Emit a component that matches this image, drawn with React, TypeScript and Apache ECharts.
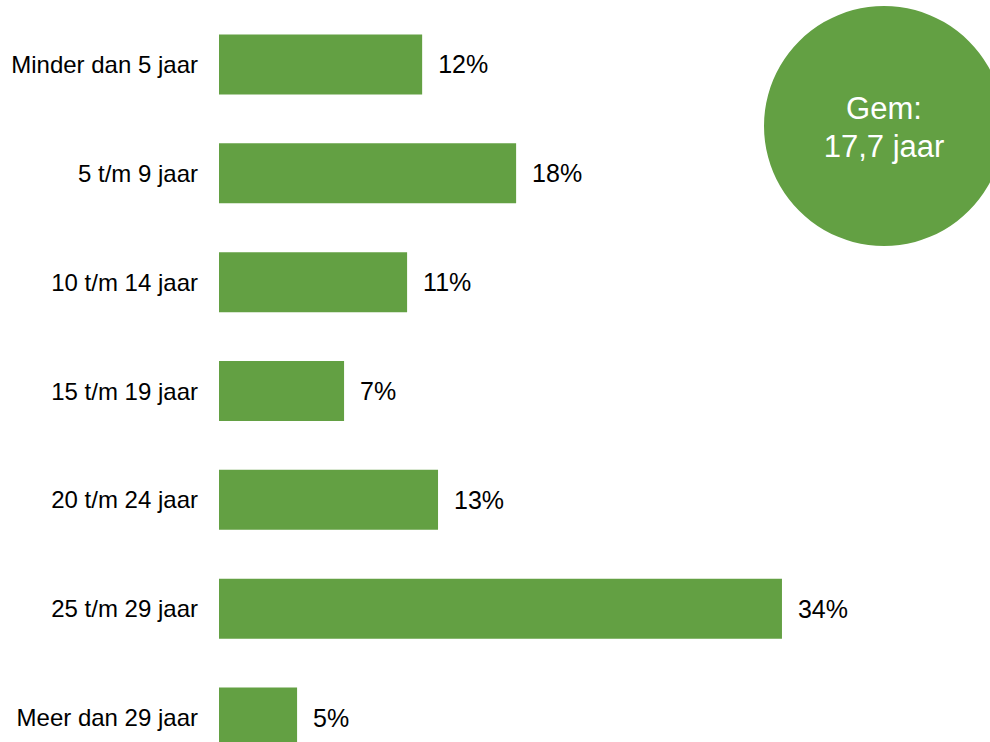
import React, { useEffect, useRef } from "react";
import * as echarts from "echarts";

const categories = [
  "Minder dan 5 jaar",
  "5 t/m 9 jaar",
  "10 t/m 14 jaar",
  "15 t/m 19 jaar",
  "20 t/m 24 jaar",
  "25 t/m 29 jaar",
  "Meer dan 29 jaar",
];
const shares = [12.15, 17.77, 11.25, 7.48, 13.1, 33.67, 4.67];
const averageLines = ["Gem:", "17,7 jaar"];

const GREEN = "#63A043";
const FONT = "Arial, 'Liberation Sans', sans-serif";

export default function App() {
  const ref = useRef<HTMLDivElement>(null);
  useEffect(() => {
    document.body.style.margin = "0";
    document.body.style.overflow = "hidden";
    const chart = echarts.init(ref.current!, null, { renderer: "svg" });
    chart.setOption({
      animation: false,
      backgroundColor: "#ffffff",
      grid: { left: 219, top: 10, height: 762, width: 668.8 },
      xAxis: {
        type: "value",
        min: 0,
        max: 40,
        show: false,
        splitLine: { show: false },
      },
      yAxis: {
        type: "category",
        inverse: true,
        data: categories,
        axisLine: { show: false },
        axisTick: { show: false },
        axisLabel: {
          color: "#000000",
          fontSize: 24,
          fontFamily: FONT,
          margin: 21,
        },
      },
      series: [
        {
          type: "bar",
          data: shares,
          barWidth: 60,
          itemStyle: { color: GREEN },
          label: {
            show: true,
            position: "right",
            distance: 16,
            color: "#000000",
            fontSize: 25,
            fontFamily: FONT,
            formatter: (p: any) => Math.round(p.value) + "%",
          },
        },
      ],
      graphic: [
        {
          type: "circle",
          shape: { cx: 884, cy: 126, r: 120 },
          style: { fill: GREEN },
        },
        {
          type: "text",
          x: 884,
          y: 127,
          style: {
            text: averageLines.join("\n"),
            fill: "#ffffff",
            fontSize: 31,
            fontFamily: FONT,
            lineHeight: 38,
            align: "center",
            verticalAlign: "middle",
          },
        },
      ],
    });
    return () => chart.dispose();
  }, []);
  return <div ref={ref} style={{ width: 990, height: 790 }} />;
}
